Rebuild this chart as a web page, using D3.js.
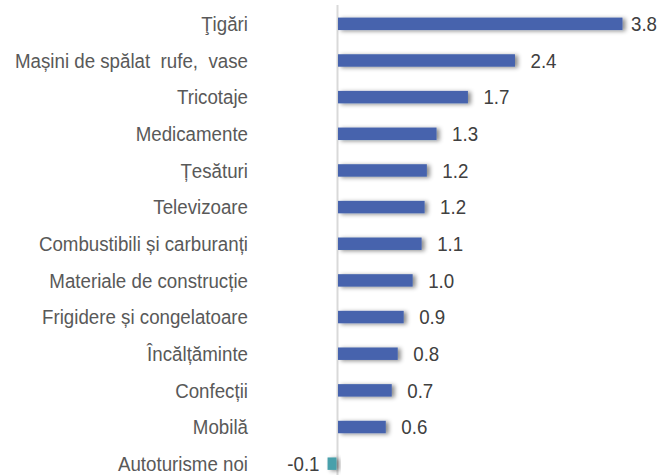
<!DOCTYPE html>
<html><head><meta charset="utf-8">
<script src="https://cdn.jsdelivr.net/npm/d3@7"></script>
<style>
html,body{margin:0;padding:0;background:#fff;}
svg{display:block;}
text{font-family:"Liberation Sans",Arial,sans-serif;white-space:pre;}
</style></head><body>
<svg id="c" width="658" height="475"></svg>
<script>
const categories = ["Ţigări","Mașini de spălat  rufe,  vase","Tricotaje","Medicamente","Țesături","Televizoare","Combustibili și carburanți","Materiale de construcție","Frigidere și congelatoare","Încălțăminte","Confecții","Mobilă","Autoturisme noi"];
const values = [3.81, 2.37, 1.74, 1.32, 1.19, 1.16, 1.12, 1.00, 0.88, 0.80, 0.72, 0.64, -0.12];
const valueLabels = ["3.8","2.4","1.7","1.3","1.2","1.2","1.1","1.0","0.9","0.8","0.7","0.6","-0.1"];

const W = 658, H = 475, SX = 0.96, FS = 19.5;
const svg = d3.select("#c");
const defs = svg.append("defs");
const f = defs.append("filter").attr("id","sh").attr("x","-20%").attr("y","-60%").attr("width","160%").attr("height","220%");
f.append("feDropShadow").attr("dx",3).attr("dy",1).attr("stdDeviation",2).attr("flood-color","#000").attr("flood-opacity",0.45);

const x = d3.scaleLinear().domain([0, 3.81]).range([337.5, 622]);
const y = d3.scaleBand().domain(categories).range([5.5, 482]).paddingInner(0.66).paddingOuter(0.33);

svg.append("line").attr("x1",x(0)).attr("x2",x(0)).attr("y1",5).attr("y2",H)
  .attr("stroke","#d9d9d9").attr("stroke-width",2);

const g = svg.append("g");
g.selectAll("rect").data(values).join("rect")
  .attr("x", d => Math.min(x(0), x(d)) + (d<0? -1:0.5))
  .attr("width", d => Math.abs(x(d)-x(0)))
  .attr("y", (d,i) => y(categories[i]))
  .attr("height", y.bandwidth())
  .attr("fill", d => d < 0 ? "#4aa0ab" : "#4664ad")
  .attr("filter","url(#sh)");

svg.selectAll("text.cat").data(categories).join("text").attr("class","cat")
  .attr("transform", d => `translate(248,${y(d) + y.bandwidth()/2}) scale(${SX},1)`)
  .attr("dy","0.37em").attr("text-anchor","end")
  .attr("font-size",FS).attr("fill","#595959").text(d => d);

svg.selectAll("text.val").data(values).join("text").attr("class","val")
  .attr("dy","0.37em").attr("font-size",FS).attr("fill","#404040")
  .text((d,i) => valueLabels[i])
  .each(function(d,i){
    const t = d3.select(this);
    const w = this.getComputedTextLength() * SX;
    const cy = y(categories[i]) + y.bandwidth()/2;
    let tx;
    if (d < 0) { t.attr("text-anchor","end"); tx = x(d) - 9; }
    else { tx = Math.min(x(d) + 16, W - 1 - w); }
    t.attr("transform", `translate(${tx},${cy}) scale(${SX},1)`);
  });
</script>
</body></html>
